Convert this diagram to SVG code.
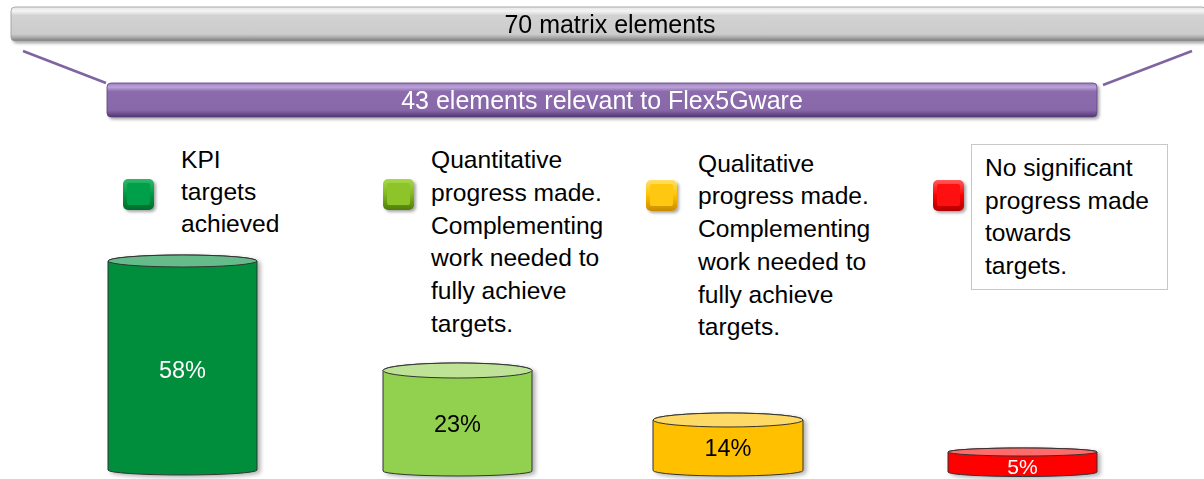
<svg xmlns="http://www.w3.org/2000/svg" width="1204" height="479" viewBox="0 0 1204 479">
<defs>
<style>
.t{font-family:"Liberation Sans",Arial,sans-serif;font-size:24.6px;fill:#000}
.hb{font-family:"Liberation Sans",Arial,sans-serif;font-size:25px;text-anchor:middle}
.pc{font-family:"Liberation Sans",Arial,sans-serif;font-size:23.5px;text-anchor:middle}
.cyl{stroke:#333;stroke-width:1}
.conn{stroke:#8064A2;stroke-width:2.5;fill:none}
</style>
<linearGradient id="gGray" x1="0" y1="0" x2="0" y2="1">
<stop offset="0" stop-color="#e6e6e6"/><stop offset="0.12" stop-color="#f4f4f4"/><stop offset="0.25" stop-color="#d2d2d2"/><stop offset="0.8" stop-color="#cccccc"/><stop offset="0.9" stop-color="#a8a8a8"/><stop offset="1" stop-color="#7a7a7a"/>
</linearGradient>
<linearGradient id="gPur" x1="0" y1="0" x2="0" y2="1">
<stop offset="0" stop-color="#9a7cbc"/><stop offset="0.12" stop-color="#bca3da"/><stop offset="0.25" stop-color="#8c6cad"/><stop offset="0.8" stop-color="#8868a9"/><stop offset="0.9" stop-color="#6e4f8f"/><stop offset="1" stop-color="#4e3470"/>
</linearGradient>
<linearGradient id="sqG" x1="0" y1="0" x2="0" y2="1"><stop offset="0" stop-color="#2fb86a"/><stop offset="0.5" stop-color="#009944"/><stop offset="1" stop-color="#006b2e"/></linearGradient>
<linearGradient id="sqL" x1="0" y1="0" x2="0" y2="1"><stop offset="0" stop-color="#a8d84a"/><stop offset="0.5" stop-color="#80b81c"/><stop offset="1" stop-color="#4f7d0a"/></linearGradient>
<linearGradient id="sqY" x1="0" y1="0" x2="0" y2="1"><stop offset="0" stop-color="#ffe066"/><stop offset="0.5" stop-color="#ffc000"/><stop offset="1" stop-color="#c98a00"/></linearGradient>
<linearGradient id="sqR" x1="0" y1="0" x2="0" y2="1"><stop offset="0" stop-color="#ff5a5a"/><stop offset="0.5" stop-color="#ff0000"/><stop offset="1" stop-color="#b00000"/></linearGradient>
<filter id="sh" x="-20%" y="-20%" width="150%" height="160%"><feDropShadow dx="2" dy="2" stdDeviation="1.5" flood-color="#000" flood-opacity="0.35"/></filter>
<filter id="shc" x="-10%" y="-10%" width="130%" height="130%"><feDropShadow dx="3" dy="2" stdDeviation="2" flood-color="#000" flood-opacity="0.3"/></filter>
</defs>

<g id="connectors">
<line class="conn" x1="23" y1="51" x2="106" y2="83"/>
<line class="conn" x1="1103" y1="85" x2="1192" y2="51"/>
</g>

<g id="bar-total" filter="url(#sh)">
<rect x="11" y="7" width="1195" height="34" rx="4" fill="url(#gGray)" stroke="#9a9a9a" stroke-width="0.8"/>
<text class="hb" x="610" y="33" fill="#000">70 matrix elements</text>
</g>

<g id="bar-relevant" filter="url(#sh)">
<rect x="107" y="83" width="990" height="34" rx="4" fill="url(#gPur)" stroke="#5e4380" stroke-width="0.8"/>
<text class="hb" x="602" y="109" fill="#fff">43 elements relevant to Flex5Gware</text>
</g>

<g id="legend-green">
<rect x="123" y="179" width="31" height="31" rx="5" fill="url(#sqG)" filter="url(#sh)"/>
<rect x="127" y="183" width="23" height="22" rx="2" fill="#00a04a"/>
<text class="t" x="181" y="168">KPI</text>
<text class="t" x="181" y="200">targets</text>
<text class="t" x="181" y="232">achieved</text>
</g>

<g id="legend-lime">
<rect x="383" y="179" width="31" height="31" rx="5" fill="url(#sqL)" filter="url(#sh)"/>
<rect x="387" y="183" width="23" height="22" rx="2" fill="#8cc42a"/>
<text class="t" x="431" y="168">Quantitative</text>
<text class="t" x="431" y="201">progress made.</text>
<text class="t" x="431" y="233.5">Complementing</text>
<text class="t" x="431" y="266">work needed to</text>
<text class="t" x="431" y="299">fully achieve</text>
<text class="t" x="431" y="331.5">targets.</text>
</g>

<g id="legend-yellow">
<rect x="646" y="180" width="31" height="31" rx="5" fill="url(#sqY)" filter="url(#sh)"/>
<rect x="650" y="184" width="23" height="22" rx="2" fill="#ffc810"/>
<text class="t" x="698" y="171.5">Qualitative</text>
<text class="t" x="698" y="204">progress made.</text>
<text class="t" x="698" y="237">Complementing</text>
<text class="t" x="698" y="270">work needed to</text>
<text class="t" x="698" y="302.5">fully achieve</text>
<text class="t" x="698" y="335">targets.</text>
</g>

<g id="legend-red">
<rect x="933" y="180" width="31" height="31" rx="5" fill="url(#sqR)" filter="url(#sh)"/>
<rect x="937" y="184" width="23" height="22" rx="2" fill="#ff1010"/>
<rect x="971.5" y="144.5" width="196" height="145" fill="#fff" stroke="#c8c8c8" stroke-width="1"/>
<text class="t" x="985" y="176">No significant</text>
<text class="t" x="985" y="208.5">progress made</text>
<text class="t" x="985" y="241">towards</text>
<text class="t" x="985" y="274">targets.</text>
</g>

<g id="cyl-58" filter="url(#shc)">
<path class="cyl" fill="#008e3e" d="M108,261 V470 A74.5,5 0 0 0 257,470 V261 A74.5,6 0 0 0 108,261 Z"/>
<ellipse class="cyl" cx="182.5" cy="261" rx="74.5" ry="6" fill="#66bb8b"/>
<text class="pc" x="182.5" y="378" fill="#fff">58%</text>
</g>

<g id="cyl-23" filter="url(#shc)">
<path class="cyl" fill="#92d050" d="M383,370.5 V471 A74.5,5 0 0 0 532,471 V370.5 A74.5,7.5 0 0 0 383,370.5 Z"/>
<ellipse class="cyl" cx="457.5" cy="370.5" rx="74.5" ry="7.5" fill="#bee396"/>
<text class="pc" x="457.5" y="432" fill="#000">23%</text>
</g>

<g id="cyl-14" filter="url(#shc)">
<path class="cyl" fill="#ffc000" d="M653,420 V470.5 A75,5.5 0 0 0 803,470.5 V420 A75,7 0 0 0 653,420 Z"/>
<ellipse class="cyl" cx="728" cy="420" rx="75" ry="7" fill="#ffd966"/>
<text class="pc" x="728" y="456" fill="#000">14%</text>
</g>

<g id="cyl-5" filter="url(#shc)">
<path class="cyl" fill="#ff0000" d="M948,452 V472 A74.5,4.5 0 0 0 1097,472 V452 A74.5,4 0 0 0 948,452 Z"/>
<ellipse class="cyl" cx="1022.5" cy="452" rx="74.5" ry="4" fill="#ff6b6b"/>
<text class="pc" x="1022.5" y="474" fill="#fff" style="font-size:21px">5%</text>
</g>
</svg>
